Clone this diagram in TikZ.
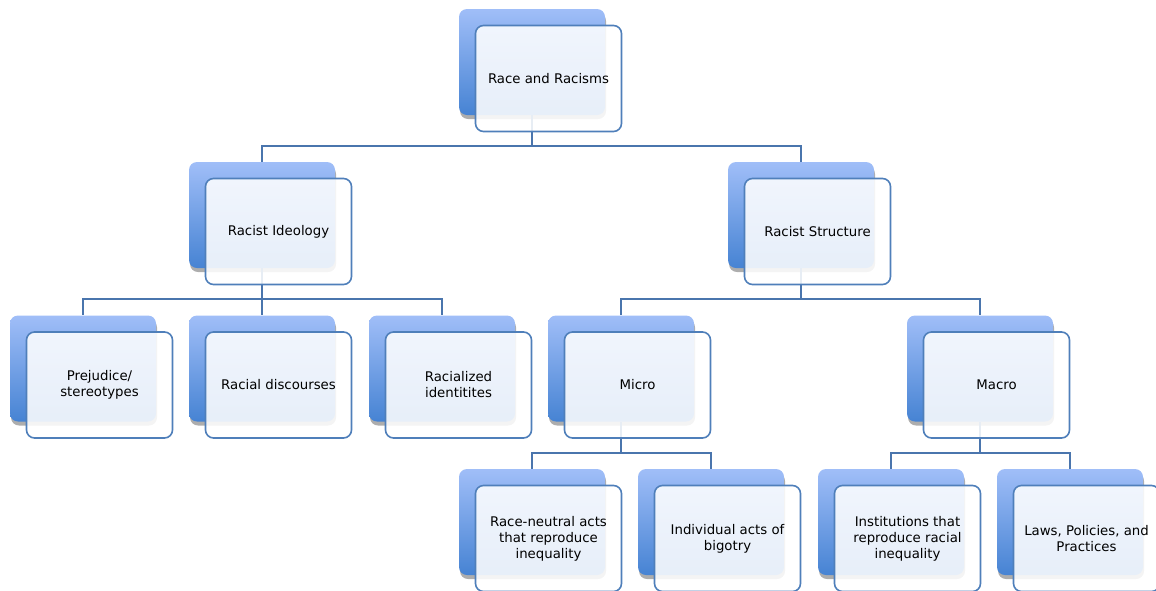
\documentclass[tikz,border=0pt]{standalone}
\usepackage{fontspec}
\setmainfont{DejaVu Sans}
\usetikzlibrary{shadows}
\definecolor{backtop}{HTML}{A0BEF8}
\definecolor{backbot}{HTML}{4683D3}
\definecolor{frontline}{HTML}{4F7FBA}
\definecolor{connline}{HTML}{4A75AD}
\begin{document}
\begin{tikzpicture}[x=1pt,y=-1pt,
  backcard/.style={minimum width=146pt,minimum height=106pt,inner sep=0pt,
    rounded corners=8pt,top color=backtop,bottom color=backbot,draw=none,
    drop shadow={shadow xshift=1pt,shadow yshift=-4pt,fill=black!40,opacity=0.8}},
  frontcard/.style={minimum width=146pt,minimum height=106pt,inner sep=2pt,
    rounded corners=8pt,fill=white,fill opacity=0.87,text opacity=1,
    draw=frontline,draw opacity=1,line width=1.6pt,align=center,
    font=\fontsize{13.3}{16}\selectfont},
  conn/.style={draw=connline,line width=1.8pt}]
\useasboundingbox (0,0) rectangle (1156,590);
\clip (0,0) rectangle (1156,590);
% back cards
\node[backcard] (top) at (532,62) {};
\node[backcard] (ideo) at (262,215) {};
\node[backcard] (struct) at (801,215) {};
\node[backcard] (prej) at (83,368.5) {};
\node[backcard] (disc) at (262,368.5) {};
\node[backcard] (rid) at (442,368.5) {};
\node[backcard] (micro) at (621,368.5) {};
\node[backcard] (macro) at (980,368.5) {};
\node[backcard] (rn) at (532,522) {};
\node[backcard] (ind) at (711,522) {};
\node[backcard] (inst) at (891,522) {};
\node[backcard] (laws) at (1070,522) {};
% connectors
\foreach \p/\c in {top/ideo,top/struct,ideo/prej,ideo/disc,ideo/rid,
  struct/micro,struct/macro,micro/rn,micro/ind,macro/inst,macro/laws}{
  \draw[conn] (\p.south) |- ([yshift=16pt]\c.north) -- (\c.north);
}
% front cards
\node[frontcard] (topf) at ([xshift=16.5pt,yshift=-16.5pt]top.center) {Race and Racisms};
\node[frontcard] (ideof) at ([xshift=16.5pt,yshift=-16.5pt]ideo.center) {Racist Ideology};
\node[frontcard] (structf) at ([xshift=16.5pt,yshift=-16.5pt]struct.center) {Racist Structure};
\node[frontcard] (prejf) at ([xshift=16.5pt,yshift=-16.5pt]prej.center) {Prejudice/\\stereotypes};
\node[frontcard] (discf) at ([xshift=16.5pt,yshift=-16.5pt]disc.center) {Racial discourses};
\node[frontcard] (ridf) at ([xshift=16.5pt,yshift=-16.5pt]rid.center) {Racialized\\identitites};
\node[frontcard] (microf) at ([xshift=16.5pt,yshift=-16.5pt]micro.center) {Micro};
\node[frontcard] (macrof) at ([xshift=16.5pt,yshift=-16.5pt]macro.center) {Macro};
\node[frontcard] (rnf) at ([xshift=16.5pt,yshift=-16.5pt]rn.center) {Race-neutral acts\\that reproduce\\inequality};
\node[frontcard] (indf) at ([xshift=16.5pt,yshift=-16.5pt]ind.center) {Individual acts of\\bigotry};
\node[frontcard] (instf) at ([xshift=16.5pt,yshift=-16.5pt]inst.center) {Institutions that\\reproduce racial\\inequality};
\node[frontcard] (lawsf) at ([xshift=16.5pt,yshift=-16.5pt]laws.center) {Laws, Policies, and\\Practices};
\end{tikzpicture}
\end{document}
